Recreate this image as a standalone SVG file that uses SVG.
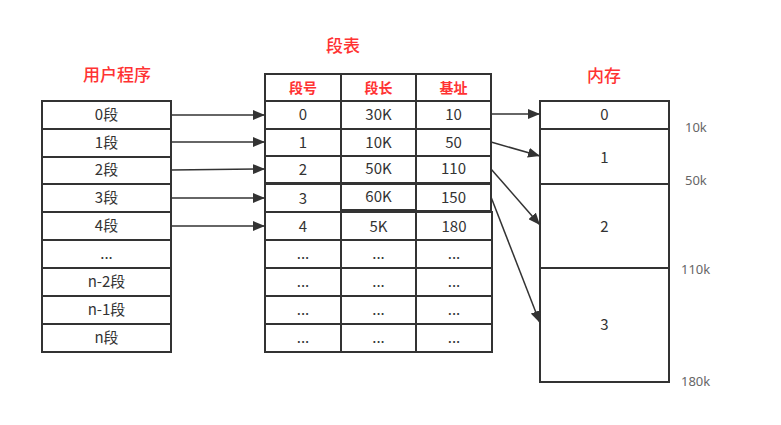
<svg xmlns="http://www.w3.org/2000/svg" width="781" height="425" viewBox="0 0 781 425">
<style>
.c{fill:#fff;stroke:#333;stroke-width:2}
.t{font-family:"Noto Sans CJK SC","Noto Sans",sans-serif;font-size:15px;fill:#333;text-anchor:middle}
.h{font-family:"Noto Sans CJK SC",sans-serif;font-size:14px;font-weight:bold;fill:#ff3333;text-anchor:middle}
.ti{font-family:"Noto Sans CJK SC",sans-serif;font-size:17px;font-weight:500;fill:#ff3333;text-anchor:middle}
.k{font-family:"Noto Sans","Noto Sans CJK SC",sans-serif;font-size:13px;fill:#666;text-anchor:start}
.a{stroke:#333;stroke-width:1.5;fill:none;marker-end:url(#ah)}
</style>
<defs>
<marker id="ah" viewBox="0 0 12 10" refX="12" refY="5" markerWidth="12" markerHeight="10" markerUnits="userSpaceOnUse" orient="auto">
<path d="M0,0 L12,5 L0,10 Z" fill="#333"/>
</marker>
</defs>
<rect width="781" height="425" fill="#fff"/>
<text class="ti" x="117" y="81">用户程序</text>
<text class="ti" x="343" y="52">段表</text>
<text class="ti" x="604" y="82">内存</text>
<g id="user-program">
<rect class="c" x="42" y="101" width="129" height="28"/><text class="t" x="106.5" y="120">0段</text>
<rect class="c" x="42" y="129" width="129" height="28"/><text class="t" x="106.5" y="148">1段</text>
<rect class="c" x="42" y="157" width="129" height="27"/><text class="t" x="106.5" y="175">2段</text>
<rect class="c" x="42" y="184" width="129" height="28"/><text class="t" x="106.5" y="203">3段</text>
<rect class="c" x="42" y="212" width="129" height="28"/><text class="t" x="106.5" y="231">4段</text>
<rect class="c" x="42" y="240" width="129" height="28"/><text class="t" x="106.5" y="259">...</text>
<rect class="c" x="42" y="268" width="129" height="28"/><text class="t" x="106.5" y="287">n-2段</text>
<rect class="c" x="42" y="296" width="129" height="28"/><text class="t" x="106.5" y="315">n-1段</text>
<rect class="c" x="42" y="324" width="129" height="28"/><text class="t" x="106.5" y="343">n段</text>
</g>
<g id="segment-table">
<rect class="c" x="265" y="74" width="76" height="27"/><text class="h" x="303" y="93">段号</text>
<rect class="c" x="341" y="74" width="75" height="27"/><text class="h" x="378.5" y="93">段长</text>
<rect class="c" x="416" y="74" width="75" height="27"/><text class="h" x="453.5" y="93">基址</text>
<rect class="c" x="265" y="101" width="76" height="28"/><text class="t" x="303" y="120">0</text>
<rect class="c" x="341" y="101" width="75" height="28"/><text class="t" x="378.5" y="120">30K</text>
<rect class="c" x="416" y="101" width="75" height="28"/><text class="t" x="453.5" y="120">10</text>
<rect class="c" x="265" y="129" width="76" height="27"/><text class="t" x="303" y="148">1</text>
<rect class="c" x="341" y="129" width="75" height="27"/><text class="t" x="378.5" y="148">10K</text>
<rect class="c" x="416" y="129" width="75" height="27"/><text class="t" x="453.5" y="148">50</text>
<rect class="c" x="265" y="156" width="76" height="27"/><text class="t" x="303" y="175">2</text>
<rect class="c" x="341" y="156" width="75" height="27"/><text class="t" x="378.5" y="174">50K</text>
<rect class="c" x="416" y="156" width="75" height="27"/><text class="t" x="453.5" y="174">110</text>
<rect class="c" x="265" y="184" width="76" height="28"/><text class="t" x="303" y="204">3</text>
<rect class="c" x="341" y="184" width="75" height="26"/><text class="t" x="378.5" y="202">60K</text>
<rect class="c" x="416" y="184" width="75" height="27"/><text class="t" x="453.5" y="203">150</text>
<rect class="c" x="265" y="212" width="76" height="28"/><text class="t" x="303" y="232">4</text>
<rect class="c" x="341" y="212" width="75" height="28"/><text class="t" x="378.5" y="232">5K</text>
<rect class="c" x="416" y="212" width="76" height="28"/><text class="t" x="454" y="232">180</text>
<rect class="c" x="265" y="240" width="76" height="28"/><text class="t" x="303" y="259">...</text>
<rect class="c" x="341" y="240" width="75" height="28"/><text class="t" x="378.5" y="259">...</text>
<rect class="c" x="416" y="240" width="76" height="28"/><text class="t" x="454" y="259">...</text>
<rect class="c" x="265" y="268" width="76" height="28"/><text class="t" x="303" y="287">...</text>
<rect class="c" x="341" y="268" width="75" height="28"/><text class="t" x="378.5" y="287">...</text>
<rect class="c" x="416" y="268" width="76" height="28"/><text class="t" x="454" y="287">...</text>
<rect class="c" x="265" y="296" width="76" height="28"/><text class="t" x="303" y="315">...</text>
<rect class="c" x="341" y="296" width="75" height="28"/><text class="t" x="378.5" y="315">...</text>
<rect class="c" x="416" y="296" width="76" height="28"/><text class="t" x="454" y="315">...</text>
<rect class="c" x="265" y="324" width="76" height="28"/><text class="t" x="303" y="343">...</text>
<rect class="c" x="341" y="324" width="75" height="28"/><text class="t" x="378.5" y="343">...</text>
<rect class="c" x="416" y="324" width="76" height="28"/><text class="t" x="454" y="343">...</text>
</g>
<g id="memory">
<rect class="c" x="540" y="101" width="129" height="28"/><text class="t" x="604.5" y="120">0</text>
<rect class="c" x="540" y="129" width="129" height="55"/><text class="t" x="604.5" y="163">1</text>
<rect class="c" x="540" y="184" width="129" height="84"/><text class="t" x="604.5" y="232">2</text>
<rect class="c" x="540" y="268" width="129" height="114"/><text class="t" x="604.5" y="330">3</text>
</g>
<g id="addresses">
<text class="k" x="685" y="132">10k</text>
<text class="k" x="685" y="185">50k</text>
<text class="k" x="681" y="274">110k</text>
<text class="k" x="681" y="386">180k</text>
</g>
<g id="connectors">
<line class="a" x1="171" y1="115" x2="265" y2="115"/>
<line class="a" x1="171" y1="142" x2="265" y2="142"/>
<line class="a" x1="171" y1="170" x2="265" y2="169"/>
<line class="a" x1="171" y1="198" x2="265" y2="198"/>
<line class="a" x1="171" y1="226" x2="265" y2="226"/>
<line class="a" x1="491" y1="114" x2="540" y2="114"/>
<line class="a" x1="491" y1="142" x2="540" y2="156"/>
<line class="a" x1="491" y1="169" x2="540" y2="225"/>
<line class="a" x1="491" y1="197" x2="540" y2="323"/>
</g>
</svg>
